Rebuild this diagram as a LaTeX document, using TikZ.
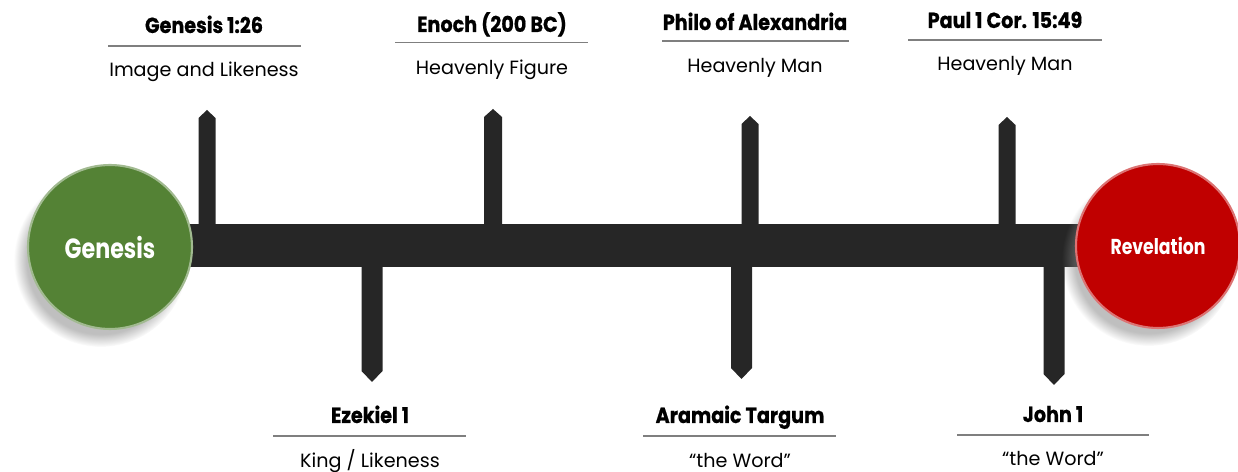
\documentclass[tikz,border=0pt]{standalone}
\usepackage{fontspec}
\setmainfont{Poppins}
\newfontfamily\headfont{Poppins Bold}[FakeStretch=0.88, FakeBold=0.6]
\newfontfamily\ballfont{Poppins Bold}[FakeStretch=0.8]
\usetikzlibrary{shadows,fadings}
\definecolor{barcol}{HTML}{262626}
\definecolor{gencol}{HTML}{548235}
\definecolor{revcol}{HTML}{C00000}
\definecolor{rulecol}{HTML}{7F7F7F}
\begin{document}
\begin{tikzpicture}[x=0.02cm, y=-0.02cm,
	head/.style={font=\headfont\fontsize{12.4}{14}\selectfont, inner sep=0pt, anchor=base},
	sub/.style={font=\fontsize{10.9}{12}\selectfont, inner sep=0pt, anchor=base},
	rule/.style={draw=rulecol, line width=0.7pt},
	tick/.style={fill=barcol},
	ball/.style={circle, minimum size=3.28cm, inner sep=0pt, line width=1.2pt, text=white,
		circular drop shadow={shadow xshift=-5pt, shadow yshift=-7pt, shadow scale=1.06, opacity=.5}}]
	\useasboundingbox (0,0) rectangle (1238,472);
	% timeline bar and ticks
	\fill[tick] (185,224) rectangle (1090,267);
	\fill[tick] (198.5,245) -- (198.5,118) -- (207,110) -- (215.5,118) -- (215.5,245) -- cycle;
	\fill[tick] (484,245) -- (484,117) -- (493,109) -- (502,117) -- (502,245) -- cycle;
	\fill[tick] (741.5,245) -- (741.5,124) -- (750,116) -- (758.5,124) -- (758.5,245) -- cycle;
	\fill[tick] (998.5,245) -- (998.5,125) -- (1007,117) -- (1015.5,125) -- (1015.5,245) -- cycle;
	\fill[tick] (361.5,245) -- (361.5,371) -- (372,382) -- (382.5,371) -- (382.5,245) -- cycle;
	\fill[tick] (731,245) -- (731,368) -- (741.5,379) -- (752,368) -- (752,245) -- cycle;
	\fill[tick] (1043.5,245) -- (1043.5,374) -- (1054,385) -- (1064.5,374) -- (1064.5,245) -- cycle;
	% end points
	\node[ball, fill=gencol, draw=gencol!55!white, font=\ballfont\fontsize{15.8}{17}\selectfont] (gen) at (110,247) {Genesis};
	\node[ball, fill=revcol, draw=revcol!55!white, font=\ballfont\fontsize{12.3}{14}\selectfont] (rev) at (1158,246) {Revelation};
	% labels above
	\node[head] (gen126) at (204,33) {Genesis 1:26};
	\draw[rule] (108,46) -- (301,46);
	\node[sub] (gen126s) at (204,77) {Image and Likeness};
	\node[head] (enoch) at (492,32) {Enoch (200 BC)};
	\draw[rule] (395,42.5) -- (588,42.5);
	\node[sub] (enochs) at (492,74.5) {Heavenly Figure};
	\node[head] (philo) at (755,30) {Philo of Alexandria};
	\draw[rule] (662,41) -- (849,41);
	\node[sub] (philos) at (755,72.5) {Heavenly Man};
	\node[head] (paul) at (1005,28) {Paul 1 Cor. 15:49};
	\draw[rule] (908,40) -- (1102,40);
	\node[sub] (pauls) at (1005,70.5) {Heavenly Man};
	% labels below
	\node[head] (ezek) at (370,423) {Ezekiel 1};
	\draw[rule] (273,436) -- (466,436);
	\node[sub] (ezeks) at (370,467.5) {King / Likeness};
	\node[head] (targum) at (740,423) {Aramaic Targum};
	\draw[rule] (643,436) -- (836,436);
	\node[sub] (targums) at (740,467.5) {“the Word”};
	\node[head] (john) at (1053,422) {John 1};
	\draw[rule] (957,435) -- (1149,435);
	\node[sub] (johns) at (1053,466) {“the Word”};
\end{tikzpicture}
\end{document}
